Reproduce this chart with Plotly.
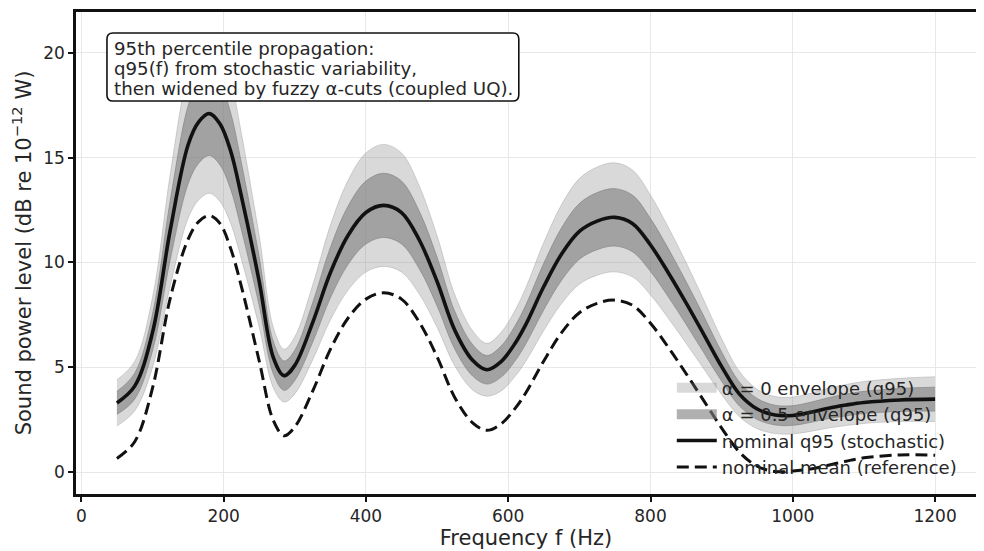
import plotly.graph_objects as go

# Frequency samples (Hz)
freq = [50, 75, 100, 125, 150, 165, 180, 195, 210, 225, 250, 270, 285, 300, 325, 350,
        375, 400, 425, 450, 475, 500, 525, 550, 570, 590, 610, 625, 650, 675, 700, 725,
        750, 775, 800, 825, 850, 875, 900, 925, 950, 975, 1000, 1025, 1050, 1075, 1100,
        1150, 1200]

# nominal mean (reference), dB
mean_nom = [0.65, 1.45, 4.0, 8.3, 11.1, 11.95, 12.23, 11.85, 10.65, 8.85, 5.3, 2.45, 1.73, 2.15,
            3.85, 5.85, 7.35, 8.25, 8.55, 8.25, 7.15, 5.5, 3.55, 2.35, 1.99, 2.3, 3.05, 3.8,
            5.3, 6.65, 7.6, 8.05, 8.2, 7.95, 7.1, 5.95, 4.7, 3.4, 2.1, 0.95, 0.28, 0.03,
            0.05, 0.15, 0.33, 0.52, 0.68, 0.82, 0.8]

# nominal q95 (stochastic), dB
q95_nom = [3.30, 4.10, 6.65, 11.55, 15.60, 16.70, 17.10, 16.60, 15.30, 13.15, 9.10, 5.45, 4.60,
           5.09, 7.12, 9.51, 11.30, 12.38, 12.72, 12.38, 11.07, 9.09, 6.76, 5.33, 4.88, 5.27,
           6.16, 7.06, 8.85, 10.40, 11.48, 11.97, 12.15, 11.85, 10.83, 9.51, 8.07, 6.56, 5.03,
           3.72, 3.01, 2.72, 2.70, 2.85, 3.05, 3.20, 3.32, 3.44, 3.48]

# alpha = 0 envelope (q95)
a0_lo = [2.20, 2.92, 4.98, 8.88, 12.10, 12.98, 13.30, 12.90, 11.86, 10.15, 6.92, 4.01, 3.34,
         3.73, 5.34, 7.25, 8.68, 9.54, 9.81, 9.54, 8.49, 6.91, 5.06, 3.92, 3.62, 3.87, 4.58,
         5.30, 6.75, 8.04, 8.96, 9.39, 9.55, 9.30, 8.45, 7.34, 6.14, 4.92, 3.70, 2.64, 2.07,
         1.84, 1.82, 1.94, 2.10, 2.22, 2.32, 2.41, 2.41]
a0_hi = [4.40, 5.28, 8.32, 14.22, 19.10, 20.42, 20.90, 20.30, 18.74, 16.15, 11.28, 6.89, 5.86,
         6.45, 8.90, 11.77, 13.92, 15.22, 15.63, 15.22, 13.65, 11.27, 8.46, 6.74, 6.14, 6.67,
         7.74, 8.82, 10.95, 12.76, 14.00, 14.55, 14.75, 14.40, 13.21, 11.68, 10.00, 8.20, 6.36,
         4.80, 3.95, 3.60, 3.58, 3.76, 4.00, 4.18, 4.32, 4.47, 4.55]

# alpha = 0.5 envelope (q95)
a5_lo = [2.75, 3.48, 5.77, 10.14, 13.74, 14.73, 15.10, 14.64, 13.48, 11.56, 7.94, 4.68, 3.90,
         4.37, 6.18, 8.31, 9.91, 10.88, 11.19, 10.88, 9.70, 7.93, 5.86, 4.58, 4.20, 4.53, 5.32,
         6.13, 7.74, 9.15, 10.15, 10.61, 10.78, 10.50, 9.57, 8.36, 7.05, 5.69, 4.33, 3.15,
         2.51, 2.25, 2.23, 2.37, 2.55, 2.68, 2.79, 2.89, 2.91]
a5_hi = [3.85, 4.72, 7.53, 12.96, 17.46, 18.67, 19.10, 18.56, 17.12, 14.74, 10.26, 6.22, 5.30,
         5.81, 8.06, 10.71, 12.69, 13.88, 14.25, 13.88, 12.44, 10.25, 7.66, 6.08, 5.56, 6.01,
         7.00, 7.99, 9.96, 11.65, 12.81, 13.33, 13.52, 13.20, 12.09, 10.66, 9.09, 7.43, 5.73,
         4.29, 3.51, 3.19, 3.17, 3.33, 3.55, 3.72, 3.85, 3.99, 4.05]

x_ticks = [0, 200, 400, 600, 800, 1000, 1200]
y_ticks = [0, 5, 10, 15, 20]

note_lines = ["95th percentile propagation:",
              "q95(f) from stochastic variability,",
              "then widened by fuzzy α-cuts (coupled UQ)."]

FONT = "DejaVu Sans"
TXT = "#262626"
light = "rgba(128,128,128,0.30)"
dark = "rgba(128,128,128,0.62)"

fig = go.Figure()

# bands (legend handled by proxy entries below)
fig.add_trace(go.Scatter(x=freq, y=a0_lo, mode="lines", line=dict(color=light, width=1, shape="spline"),
                         showlegend=False, hoverinfo="skip"))
fig.add_trace(go.Scatter(x=freq, y=a0_hi, mode="lines", line=dict(color=light, width=1, shape="spline"),
                         fill="tonexty", fillcolor=light, showlegend=False, name="α = 0 envelope (q95)"))
fig.add_trace(go.Scatter(x=freq, y=a5_lo, mode="lines", line=dict(color=dark, width=1, shape="spline"),
                         showlegend=False, hoverinfo="skip"))
fig.add_trace(go.Scatter(x=freq, y=a5_hi, mode="lines", line=dict(color=dark, width=1, shape="spline"),
                         fill="tonexty", fillcolor=dark, showlegend=False, name="α = 0.5 envelope (q95)"))

# legend proxies for the band patches
fig.add_trace(go.Scatter(x=[None], y=[None], mode="lines", line=dict(color=light, width=15),
                         name="α = 0 envelope (q95)"))
fig.add_trace(go.Scatter(x=[None], y=[None], mode="lines", line=dict(color=dark, width=15),
                         name="α = 0.5 envelope (q95)"))

fig.add_trace(go.Scatter(x=freq, y=q95_nom, mode="lines",
                         line=dict(color="#111111", width=3.6, shape="spline"),
                         name="nominal q95 (stochastic)"))
fig.add_trace(go.Scatter(x=freq, y=mean_nom, mode="lines",
                         line=dict(color="#111111", width=3, dash="12px,6px", shape="spline"),
                         name="nominal mean (reference)"))

# rounded annotation box (paper coords)
x0, x1, y0, y1 = 0.0344, 0.492, 0.8154, 0.9564
rx, ry = 0.0067, 0.0125
path = (f"M {x0+rx},{y0} L {x1-rx},{y0} Q {x1},{y0} {x1},{y0+ry} L {x1},{y1-ry} "
        f"Q {x1},{y1} {x1-rx},{y1} L {x0+rx},{y1} Q {x0},{y1} {x0},{y1-ry} "
        f"L {x0},{y0+ry} Q {x0},{y0} {x0+rx},{y0} Z")
fig.add_shape(type="path", path=path, xref="paper", yref="paper",
              line=dict(color="#111111", width=1.6), fillcolor="white", layer="above")

for txt, yy in zip(note_lines, [0.925, 0.883, 0.8405]):
    fig.add_annotation(xref="paper", yref="paper", x=0.0405, y=yy, xanchor="left", yanchor="middle",
                       align="left", showarrow=False, text=txt,
                       font=dict(family=FONT, size=18.2, color=TXT))

axis_common = dict(showline=True, linecolor="#111111", linewidth=2.5, mirror=True,
                   showgrid=True, gridcolor="#e8e8e8", gridwidth=1, zeroline=False,
                   ticks="outside", ticklen=5, tickwidth=1.5, tickcolor="#111111",
                   tickfont=dict(family=FONT, size=17, color=TXT), automargin=False)

fig.update_xaxes(range=[-7.5, 1257.5], tickvals=x_ticks,
                 title=dict(text="Frequency f (Hz)", font=dict(family=FONT, size=21, color=TXT), standoff=6),
                 **axis_common)
fig.update_yaxes(range=[-1.045, 21.945], tickvals=y_ticks,
                 title=dict(text="Sound power level (dB re 10<sup>−12</sup> W)",
                            font=dict(family=FONT, size=21, color=TXT), standoff=7),
                 **axis_common)

# page body adds an 8px offset, so the figure is sized/margined to compensate
fig.update_layout(
    width=976, height=543,
    margin=dict(l=68, r=8, t=4, b=57),
    plot_bgcolor="white", paper_bgcolor="white",
    font=dict(family=FONT, color=TXT),
    showlegend=True,
    legend=dict(x=0.662, y=0.0175, xanchor="left", yanchor="bottom", traceorder="normal",
                bgcolor="rgba(0,0,0,0)", borderwidth=0,
                font=dict(family=FONT, size=18, color=TXT),
                itemwidth=40, tracegroupgap=0),
)

fig.write_html("out.html")
